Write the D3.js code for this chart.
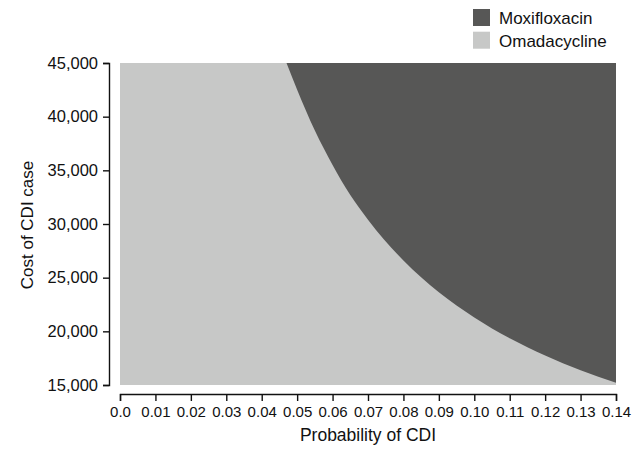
<!DOCTYPE html>
<html>
<head>
<meta charset="utf-8">
<script src="https://cdn.jsdelivr.net/npm/d3@7"></script>
<style>
  body { margin: 0; background: #fff; }
  svg text { font-family: "Liberation Sans", Arial, Helvetica, sans-serif; fill: #111; }
</style>
</head>
<body>
<div id="chart"></div>
<script>
// boundary: cost at which both drugs are equal
const probCDI = [0.047, 0.050, 0.055, 0.060, 0.065, 0.070, 0.080, 0.090, 0.100, 0.110, 0.120, 0.130, 0.140];
const costCDI = [45000, 42500, 38700, 35500, 32700, 30400, 26600, 23650, 21300, 19350, 17750, 16380, 15200];

const xTicks = [0, 0.01, 0.02, 0.03, 0.04, 0.05, 0.06, 0.07, 0.08, 0.09, 0.10, 0.11, 0.12, 0.13, 0.14];
const yTicks = [15000, 20000, 25000, 30000, 35000, 40000, 45000];
const legendLabels = ["Moxifloxacin", "Omadacycline"];
const legendColors = ["#575756", "#c7c8c7"];

const W = 633, H = 449;
const plot = { left: 120, right: 616, top: 63, bottom: 385 };

const svg = d3.select("#chart").append("svg")
  .attr("width", W).attr("height", H);

const x = d3.scaleLinear().domain([0, 0.14]).range([plot.left, plot.right]);
const y = d3.scaleLinear().domain([15000, 45000]).range([plot.bottom, plot.top]);

// omadacycline everywhere, moxifloxacin above the boundary
svg.append("rect")
  .attr("x", x(0)).attr("y", y(45000))
  .attr("width", x(0.14) - x(0)).attr("height", y(15000) - y(45000))
  .attr("fill", legendColors[1]);

const pts = probCDI.map((p, i) => [p, costCDI[i]]);
const area = d3.area()
  .x(d => x(d[0]))
  .y0(() => y(45000))
  .y1(d => y(d[1]))
  .curve(d3.curveMonotoneX);

svg.append("path")
  .datum(pts)
  .attr("d", area)
  .attr("fill", legendColors[0]);

// axes
const xAxis = svg.append("g")
  .attr("transform", "translate(0,394)")
  .call(d3.axisBottom(x).tickValues(xTicks).tickSize(7).tickSizeOuter(7)
    .tickFormat(d => d === 0 ? "0.0" : d3.format(".2f")(d)));
xAxis.selectAll("text").attr("font-size", 15).attr("dy", "0.85em").attr("y", 10);

const yAxis = svg.append("g")
  .attr("transform", "translate(109,0)")
  .call(d3.axisLeft(y).tickValues(yTicks).tickSize(6).tickSizeOuter(6)
    .tickFormat(d3.format(",")));
yAxis.selectAll("text").attr("font-size", 16.5).attr("x", -11);

svg.selectAll(".domain, .tick line").attr("stroke", "#111").attr("stroke-width", 1.4);
svg.selectAll(".tick text").attr("fill", "#111");
svg.selectAll("g").attr("font-family", null);

// axis titles
svg.append("text")
  .attr("x", (plot.left + plot.right) / 2).attr("y", 441)
  .attr("text-anchor", "middle").attr("font-size", 17.5)
  .text("Probability of CDI");

svg.append("text")
  .attr("transform", "translate(33,225) rotate(-90)")
  .attr("text-anchor", "middle").attr("font-size", 17)
  .text("Cost of CDI case");

// legend
const legend = svg.append("g").attr("transform", "translate(473,9)");
legendLabels.forEach((lab, i) => {
  legend.append("rect")
    .attr("x", 0).attr("y", i * 22.7)
    .attr("width", 17).attr("height", 17)
    .attr("fill", legendColors[i]);
  legend.append("text")
    .attr("x", 26).attr("y", i * 22.7 + 15)
    .attr("font-size", 17)
    .text(lab);
});
</script>
</body>
</html>
